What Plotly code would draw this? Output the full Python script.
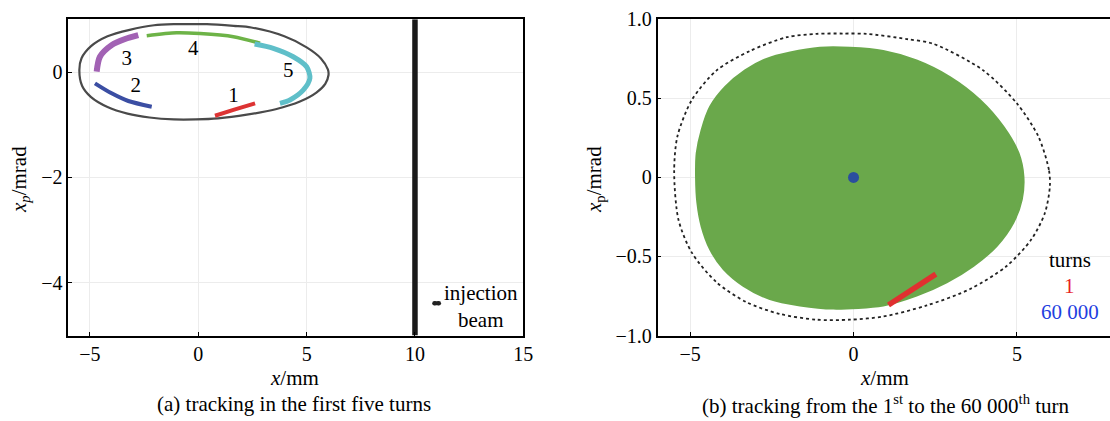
import plotly.graph_objects as go

# ---------------- data ----------------
# dynamic-aperture boundary (same curve in both panels)
ring_x = [6.01, 5.98, 5.66, 5.00, 3.97, 2.44, 1.63, 0.40, -0.31, -1.13, -2.04, -3.17, -4.19,
          -4.95, -5.39, -5.49, -5.36, -4.95, -4.19, -3.27, -2.25, -1.13, -0.11, 0.91, 2.24,
          3.57, 4.69, 5.45, 5.86, 6.01]
ring_y = [-0.057, 0.048, 0.258, 0.468, 0.677, 0.845, 0.875, 0.908, 0.91, 0.908, 0.887, 0.80,
          0.677, 0.49, 0.26, 0.04, -0.266, -0.476, -0.664, -0.79, -0.864, -0.90, -0.90, -0.88,
          -0.81, -0.706, -0.56, -0.39, -0.224, -0.057]

# panel (a): first five turns
turn1_x = [0.77, 1.62, 2.62]
turn1_y = [-0.83, -0.72, -0.594]
turn2_x = [-4.77, -4.00, -3.23, -2.15]
turn2_y = [-0.215, -0.405, -0.55, -0.658]
turn3_x = [-4.69, -4.54, -4.00, -3.38, -2.77]
turn3_y = [0.006, 0.29, 0.51, 0.626, 0.70]
turn4_x = [-2.38, -1.00, 0.08, 1.62, 2.85]
turn4_y = [0.69, 0.745, 0.73, 0.67, 0.545]
turn5_x = [2.60, 3.46, 4.38, 5.00, 5.15, 4.85, 4.23, 3.77]
turn5_y = [0.53, 0.45, 0.29, 0.10, -0.12, -0.34, -0.53, -0.594]
turn_labels = ["1", "2", "3", "4", "5"]
turn_label_x = [1.62, -2.89, -3.30, -0.23, 4.15]
turn_label_y = [-0.47, -0.28, 0.24, 0.42, 0.006]
septum_x = [10, 10]
septum_y = [-5, 1]
inj_x = [10.9, 11.1]
inj_y = [-4.39, -4.39]

# panel (b): 1st to 60 000th turn
cloud_x = [5.20, 5.05, 4.59, 3.87, 2.95, 1.93, 0.91, -0.11, -1.03, -1.94, -2.66, -3.32, -3.93,
           -4.39, -4.65, -4.80, -4.82, -4.78, -4.65, -4.39, -3.98, -3.37, -2.56, -1.64, -0.62,
           0.91, 1.93, 2.85, 3.67, 4.38, 4.89, 5.15, 5.20]
cloud_y = [0.006, 0.153, 0.32, 0.49, 0.635, 0.74, 0.80, 0.82, 0.82, 0.79, 0.75, 0.677, 0.572,
           0.447, 0.30, 0.153, 0.0, -0.16, -0.31, -0.455, -0.58, -0.686, -0.77, -0.81, -0.83,
           -0.81, -0.748, -0.664, -0.56, -0.434, -0.287, -0.14, 0.006]
first_turn_x = [1.07, 2.52]
first_turn_y = [-0.807, -0.612]
last_turn_x = [0.0]
last_turn_y = [0.0]

left_yticks = [0, -2, -4]
left_yticktext = ["0", "\u22122", "\u22124"]
left_xticks = [-5, 0, 5, 10, 15]
left_xticktext = ["\u22125", "0", "5", "10", "15"]
right_yticks = [1.0, 0.5, 0, -0.5, -1.0]
right_yticktext = ["1.0", "0.5", "0", "\u22120.5", "\u22121.0"]
right_xticks = [-5, 0, 5]
right_xticktext = ["\u22125", "0", "5"]

# ---------------- figure ----------------
W, H = 1110, 421
FONT = "Liberation Serif"

fig = go.Figure()

def arc(x, y, color, width, xa="x", ya="y"):
    fig.add_trace(go.Scatter(x=x, y=y, mode="lines", xaxis=xa, yaxis=ya,
                             line=dict(color=color, width=width, shape="spline", smoothing=0.8),
                             hoverinfo="skip", showlegend=False))

# panel (a)
fig.add_trace(go.Scatter(x=ring_x, y=ring_y, mode="lines",
                         line=dict(color="#4a4a4a", width=2.2, shape="spline", smoothing=0.8),
                         showlegend=False, hoverinfo="skip"))
arc(turn1_x, turn1_y, "#dd3333", 4)
arc(turn2_x, turn2_y, "#3b4ea3", 4)
arc(turn3_x, turn3_y, "#a262b4", 6)
arc(turn4_x, turn4_y, "#6db347", 3.5)
arc(turn5_x, turn5_y, "#5fbfc9", 5)
fig.add_trace(go.Scatter(x=turn_label_x, y=turn_label_y, mode="text", text=turn_labels,
                         textfont=dict(family=FONT, size=21, color="black"),
                         showlegend=False, hoverinfo="skip"))
fig.add_trace(go.Scatter(x=septum_x, y=septum_y, mode="lines", line=dict(color="#1a1a1a", width=5.5),
                         showlegend=False, hoverinfo="skip"))
fig.add_trace(go.Scatter(x=inj_x, y=inj_y, mode="lines+markers", line=dict(color="#222222", width=4),
                         marker=dict(color="#222222", size=4.5),
                         showlegend=False, hoverinfo="skip"))

# panel (b)
fig.add_trace(go.Scatter(x=cloud_x, y=cloud_y, mode="lines", fill="toself", fillcolor="#6aa84b",
                         line=dict(color="#6aa84b", width=2, shape="spline", smoothing=0.8),
                         xaxis="x2", yaxis="y2", showlegend=False, hoverinfo="skip"))
fig.add_trace(go.Scatter(x=ring_x, y=ring_y, mode="lines",
                         line=dict(color="#222222", width=1.8, dash="dot", shape="spline", smoothing=0.8),
                         xaxis="x2", yaxis="y2", showlegend=False, hoverinfo="skip"))
arc(first_turn_x, first_turn_y, "#e03030", 5.5, "x2", "y2")
fig.add_trace(go.Scatter(x=last_turn_x, y=last_turn_y, mode="markers",
                         marker=dict(color="#2b4e9e", size=11),
                         xaxis="x2", yaxis="y2", showlegend=False, hoverinfo="skip"))

# ---------------- layout ----------------
ydom = [1 - 335.5 / H, 1 - 19.3 / H]
axis_common = dict(showline=True, linecolor="black", linewidth=1.5, ticks="inside", ticklen=4,
                   tickcolor="black", showgrid=True, gridcolor="#ececec", gridwidth=1, zeroline=False,
                   automargin=False, tickfont=dict(family=FONT, size=20, color="black"))

fig.update_layout(
    template="none",
    width=W, height=H, margin=dict(l=0, r=0, t=0, b=0, autoexpand=False),
    paper_bgcolor="white", plot_bgcolor="white", showlegend=False,
    font=dict(family=FONT, color="black"),
    xaxis=dict(domain=[68.3 / W, 523.3 / W], range=[-6, 15], tickvals=left_xticks, ticktext=left_xticktext,
               mirror=True, anchor="y", **axis_common),
    yaxis=dict(domain=ydom, range=[-5, 1], tickvals=left_yticks, ticktext=left_yticktext,
               mirror=True, anchor="x", **axis_common),
    xaxis2=dict(domain=[657.5 / W, 1.0], range=[-6, 7.85], tickvals=right_xticks, ticktext=right_xticktext,
                mirror=True, anchor="y2", **axis_common),
    yaxis2=dict(domain=ydom, range=[-1, 1], tickvals=right_yticks, ticktext=right_yticktext,
                mirror=False, anchor="x2", **axis_common),
)

def ptxt(px, py, text, size=21, color="black", angle=0):
    fig.add_annotation(x=px / W, y=1 - py / H, xref="paper", yref="paper", text=text,
                       showarrow=False, xanchor="center", yanchor="middle", textangle=angle,
                       font=dict(family=FONT, size=size, color=color))

# axis titles and captions
ptxt(294, 378, "<i>x</i>/mm")
ptxt(884, 378, "<i>x</i>/mm")
ptxt(20, 180, "<i>x<sub>p</sub></i>/mrad", angle=-90)
ptxt(595, 180, "<i>x</i><sub>p</sub>/mrad", angle=-90)
ptxt(294, 404, "(a) tracking in the first five turns", size=21)
ptxt(886, 404, "(b) tracking from the 1<sup>st</sup> to the 60 000<sup>th</sup> turn", size=21)

# injection beam label (data coords)
fig.add_annotation(x=13.05, y=-4.45, xref="x", yref="y", text="injection<br>beam", showarrow=False,
                   xanchor="center", yanchor="middle", align="center",
                   font=dict(family=FONT, size=21, color="black"))

# turns legend
ptxt(1070, 260, "turns")
ptxt(1069, 286, "1", color="#e8211f")
ptxt(1070, 312, "60 000", color="#1f3fe0")

fig.write_html("out.html", config={"displayModeBar": False},
               post_script="document.body.style.margin='0';document.body.style.overflow='hidden';")
